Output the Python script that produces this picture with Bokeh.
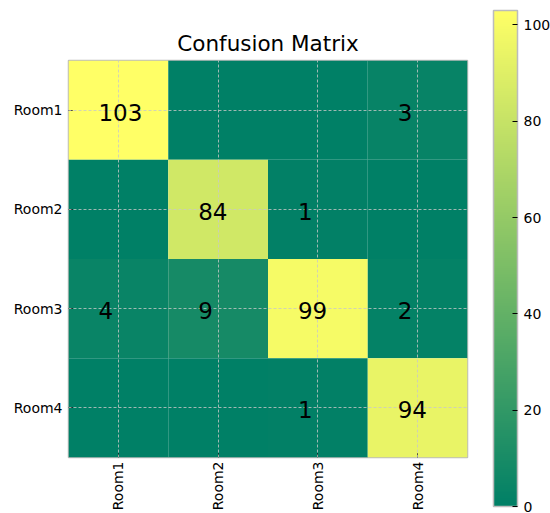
import numpy as np
from bokeh.plotting import figure
from bokeh.models import (ColumnDataSource, FactorRange, LinearColorMapper,
                          FixedTicker, ColorBar)
from bokeh.transform import dodge
from bokeh.core.properties import value
from bokeh.embed import file_html
from bokeh.resources import INLINE

# Confusion matrix counts: rows = true class, columns = predicted class
rooms = ["Room1", "Room2", "Room3", "Room4"]
row_room1 = [103, 0, 0, 3]
row_room2 = [0, 84, 1, 0]
row_room3 = [4, 9, 99, 2]
row_room4 = [0, 0, 1, 94]
matrix_rows = [row_room1, row_room2, row_room3, row_room4]
colorbar_ticks = [0, 20, 40, 60, 80, 100]

FONT = "DejaVu Sans"

# "summer" colormap: green (0, .5, .4) -> yellow (1, 1, .4)
def summer_palette(n=256):
    out = []
    for i in range(n):
        t = i / (n - 1)
        r, g, b = t, 0.5 + 0.5 * t, 0.4
        out.append("#%02x%02x%02x" % (round(r * 255), round(g * 255), round(b * 255)))
    return out

vmax = max(max(r) for r in matrix_rows)
mapper = LinearColorMapper(palette=summer_palette(), low=0, high=vmax)

xs, ys, vals = [], [], []
for true_room, counts in zip(rooms, matrix_rows):
    for pred_room, c in zip(rooms, counts):
        xs.append(pred_room)
        ys.append(true_room)
        vals.append(c)
cells = ColumnDataSource(dict(x=xs, y=ys, v=vals))

nz = [i for i, v in enumerate(vals) if v != 0]
labels = ColumnDataSource(dict(x=[xs[i] for i in nz], y=[ys[i] for i in nz],
                               t=[str(vals[i]) for i in nz]))

p = figure(x_range=FactorRange(*rooms), y_range=FactorRange(*rooms[::-1]),
           width=550, height=513, min_border_left=68, min_border_right=83,
           min_border_top=60, min_border_bottom=55,
           output_backend="svg", toolbar_location=None,
           title="Confusion Matrix")
p.title.text_font = FONT
p.title.text_font_size = "21.5px"
p.title.text_font_style = "normal"
p.title.align = "center"
p.title.text_color = "black"

p.rect(x="x", y="y", width=1, height=1, source=cells,
       fill_color={"field": "v", "transform": mapper}, line_color=None)

# counts written left-aligned, a fifth of a cell left of each cell centre
t = p.text(x=dodge("x", -0.2, range=p.x_range),
           y=dodge("y", -0.02, range=p.y_range),
           text="t", source=labels, text_font=value(FONT),
           text_font_size="23px", text_align="left", text_baseline="middle",
           text_color="black")
t.level = "annotation"

for g in (p.xgrid, p.ygrid):
    g.grid_line_color = "#c8c8c8"
    g.grid_line_dash = "3 2"
    g.grid_line_width = 0.8
    g.level = "guide"

p.outline_line_color = "#bcbcbc"
p.outline_line_width = 1.5

for ax in (p.xaxis, p.yaxis):
    ax.axis_line_color = None
    ax.major_tick_in = 4
    ax.major_tick_out = 0
    ax.major_tick_line_color = "black"
    ax.minor_tick_line_color = None
    ax.major_label_text_font = FONT
    ax.major_label_text_font_size = "14px"
    ax.major_label_text_color = "black"
    ax.major_label_standoff = 6
p.xaxis.major_label_standoff = 4
p.xaxis.major_label_orientation = np.pi / 2
p.x_range.range_padding = 0
p.y_range.range_padding = 0

# Colour bar beside the matrix, taller than the matrix itself
cbar = ColorBar(color_mapper=mapper, ticker=FixedTicker(ticks=colorbar_ticks),
                width=24, height=496, location=(425, -49), padding=0,
                margin=0, background_fill_alpha=0, border_line_color=None,
                bar_line_color="#bcbcbc", bar_line_width=1.5,
                major_tick_in=5, major_tick_out=0,
                major_tick_line_color="black", minor_tick_line_color=None,
                label_standoff=6, major_label_text_font=FONT,
                major_label_text_font_size="14px",
                major_label_text_color="black")
p.add_layout(cbar, "center")

open("out.html", "w").write(file_html(p, INLINE))
